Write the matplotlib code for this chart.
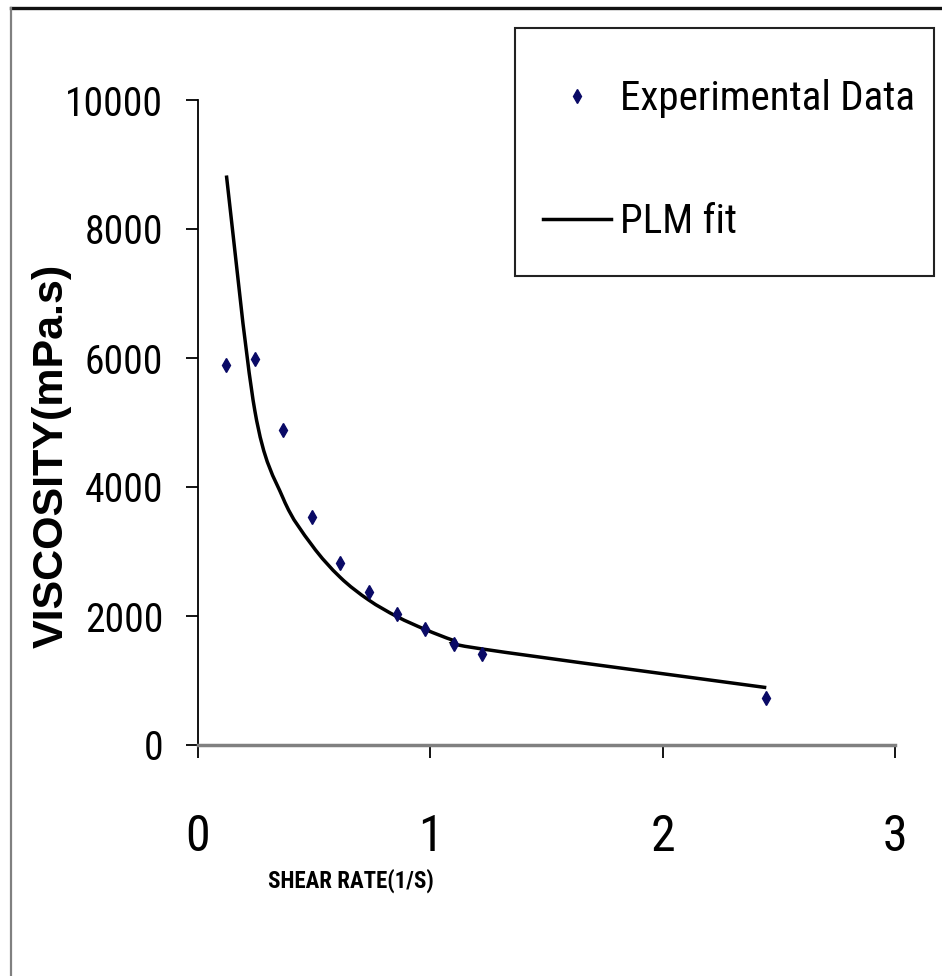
import os
import matplotlib
matplotlib.use("Agg")
import matplotlib.pyplot as plt
from matplotlib.lines import Line2D
from matplotlib.patches import Rectangle, PathPatch
from matplotlib.path import Path
from matplotlib import font_manager as fm

# ---- data ----
shear_rate = [0.1224, 0.2448, 0.367, 0.490, 0.612, 0.734, 0.857, 0.979, 1.101, 1.221, 2.446]
viscosity_exp = [5885, 5983, 4888, 3528, 2826, 2366, 2028, 1795, 1568, 1417, 726]
viscosity_fit = [8830, 5180, 3820, 3100, 2600, 2250, 1990, 1790, 1620, 1490, 890]
x_ticks = [0, 1, 2, 3]
y_ticks = [0, 2000, 4000, 6000, 8000, 10000]
x_label = "SHEAR RATE(1/S)"
y_label = "VISCOSITY(mPa.s)"
legend_labels = ["Experimental Data", "PLM fit"]


def find_narrow(bold=False):
    prefs = ["LiberationSansNarrow", "ArialNarrow", "RobotoCondensed"]
    found = []
    for f in fm.fontManager.ttflist:
        base = os.path.basename(f.fname)
        low = base.lower()
        if "italic" in low or "oblique" in low:
            continue
        is_bold = ("bold" in low) or (isinstance(f.weight, int) and f.weight >= 600) or f.weight == "bold"
        if is_bold != bold:
            continue
        for rank, p in enumerate(prefs):
            if p.lower() in low.replace(" ", "").replace("-", "").replace("_", ""):
                found.append((rank, f.fname))
    if found:
        found.sort()
        return found[0][1]
    return None


narrow_reg = find_narrow(False)
narrow_bold = find_narrow(True)
plt.rcParams['font.family'] = ['Liberation Sans', 'DejaVu Sans']


def fp(size, bold=False):
    path = narrow_bold if bold else narrow_reg
    if path:
        return fm.FontProperties(fname=path, size=size)
    # fall back: regular-width font, reduced to keep the same text widths
    return fm.FontProperties(family=['Liberation Sans', 'DejaVu Sans'], size=size * 0.82,
                             weight='bold' if bold else 'normal')


W, H = 942, 976
fig = plt.figure(figsize=(W / 100, H / 100), dpi=100)
fig.patch.set_facecolor("white")

ax = fig.add_axes([198 / W, 1 - 745 / H, 697 / W, 645 / H])
ax.plot(shear_rate, viscosity_exp, linestyle="none", marker="d", markersize=7.5,
        color="#0a0a66", label=legend_labels[0], zorder=3)

# smoothed fit line (Bezier through the fitted values, like a spreadsheet "smoothed line")
n = len(shear_rate)
P = list(zip(shear_rate, viscosity_fit))
verts = [P[0]]
codes = [Path.MOVETO]
for i in range(n - 1):
    p0 = P[max(i - 1, 0)]
    p1 = P[i]
    p2 = P[i + 1]
    p3 = P[min(i + 2, n - 1)]
    c1 = (p1[0] + (p2[0] - p0[0]) / 6, p1[1] + (p2[1] - p0[1]) / 6)
    c2 = (p2[0] - (p3[0] - p1[0]) / 6, p2[1] - (p3[1] - p1[1]) / 6)
    verts += [c1, c2, p2]
    codes += [Path.CURVE4] * 3
ax.add_patch(PathPatch(Path(verts, codes), facecolor="none", edgecolor="black",
                       linewidth=2.5, zorder=2, capstyle="butt"))
fit_handle = Line2D([], [], color="black", linewidth=2.5, label=legend_labels[1])

ax.set_xlim(0, 3)
ax.set_ylim(0, 10000)
ax.set_xticks(x_ticks)
ax.set_yticks(y_ticks)
ax.set_xticklabels([str(t) for t in x_ticks], fontproperties=fp(36))
ax.set_yticklabels([str(t) for t in y_ticks], fontproperties=fp(28.5))
ax.spines["top"].set_visible(False)
ax.spines["right"].set_visible(False)
ax.spines["left"].set_color("black")
ax.spines["left"].set_linewidth(1.3)
ax.spines["bottom"].set_color("#808080")
ax.spines["bottom"].set_linewidth(2.5)
ax.tick_params(axis="y", direction="out", length=9, width=1.3, pad=16, colors="black")
ax.tick_params(axis="x", direction="out", length=9, width=1.3, pad=40, colors="black")

fig.text(351 / W, 1 - 881 / H, x_label, fontproperties=fp(16.5, bold=True),
         ha="center", va="center")
fig.text(52 / W, 1 - 456 / H, y_label, fontsize=31, fontweight="bold",
         rotation=90, ha="center", va="center")

# legend (entries placed by the library, frame drawn as a box)
leg_fp = fp(29.5)
handles = ax.get_legend_handles_labels()[0][:1] + [fit_handle]
leg = ax.legend(handles, legend_labels, loc="center left",
                bbox_to_anchor=(543 / W, 1 - 160 / H),
                bbox_transform=fig.transFigure, borderaxespad=0, borderpad=0,
                prop=leg_fp, frameon=False, labelspacing=2.05 if narrow_reg else 2.4,
                handlelength=1.65 if narrow_reg else 1.95,
                handletextpad=0.22 if narrow_reg else 0.26, numpoints=1)
fig.add_artist(Rectangle((515 / W, 1 - 276 / H), (934 - 515) / W, (276 - 28) / H,
                         transform=fig.transFigure, facecolor="none",
                         edgecolor="#222222", linewidth=1.5))

# outer frame lines
fig.add_artist(Line2D([11 / W, 1.0], [1 - 8 / H, 1 - 8 / H], transform=fig.transFigure,
                      color="#111111", linewidth=2.4))
fig.add_artist(Line2D([11 / W, 11 / W], [0, 1 - 8 / H], transform=fig.transFigure,
                      color="#808080", linewidth=1.6))

fig.savefig("out.png", dpi=100)
